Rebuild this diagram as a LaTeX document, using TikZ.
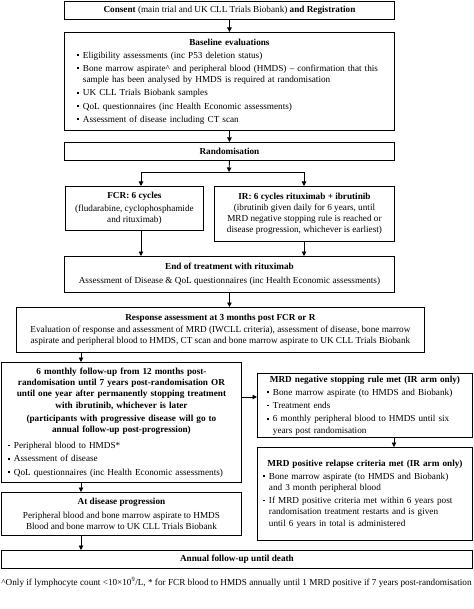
\documentclass[tikz,border=0pt]{standalone}
\usepackage{fontspec}
\setmainfont{Liberation Serif}
\usetikzlibrary{arrows.meta}
\newcommand{\fs}{\fontsize{9.2}{11.2}\selectfont}
\newcommand{\bx}{\raisebox{2.3pt}{\rule{1.7pt}{1.7pt}}}
\def\bind{7pt}
\def\igap{2pt}
\newcommand{\bitem}[1]{\par\vskip\igap{\leftskip=\bind\relax\hangindent=5.5pt\hangafter=1\noindent\makebox[5.5pt][l]{\bx}#1\par}}
\begin{document}
\begin{tikzpicture}[x=1pt,y=-1pt,
  bx/.style={draw, line width=0.9pt, anchor=north west, inner ysep=1pt, font=\fs},
  cbox/.style={bx, align=center, inner xsep=2pt},
  arr/.style={-{Triangle[length=4.5pt,width=4.5pt]}, line width=0.9pt},
  ln/.style={line width=0.9pt}]
\useasboundingbox (0,0) rectangle (473,609);

\node[cbox, minimum width=330pt, minimum height=18pt] (consent) at (64,1)
  {\textbf{Consent} (main trial and UK CLL Trials Biobank) \textbf{and Registration}};

\node[bx, text width=318pt, inner xsep=6pt, minimum height=98pt, align=left] (base) at (64,32)
  {{\centering\textbf{Baseline evaluations}\par}
   \def\bind{7pt}%
   \bitem{Eligibility assessments (inc P53 deletion status)}
   \bitem{Bone marrow aspirate\textasciicircum{} and peripheral blood (HMDS) -- confirmation that this\newline sample has been analysed by HMDS is required at randomisation}
   \bitem{UK CLL Trials Biobank samples}
   \bitem{QoL questionnaires (inc Health Economic assessments)}
   \bitem{Assessment of disease including CT scan}};

\node[cbox, minimum width=330pt, minimum height=18pt] (random) at (64,142)
  {\textbf{Randomisation}};

\node[cbox, minimum width=138pt, minimum height=44pt] (fcr) at (65,186)
  {\textbf{FCR: 6 cycles}\\[2pt] (fludarabine, cyclophosphamide\\ and rituximab)};

\node[cbox, minimum width=180pt, minimum height=55pt] (ir) at (214,186)
  {\textbf{IR: 6 cycles rituximab + ibrutinib}\\ (ibrutinib given daily for 6 years, until\\ MRD negative stopping rule is reached or\\ disease progression, whichever is earliest)};

\node[cbox, minimum width=330pt, minimum height=36pt] (endtr) at (64,256)
  {\textbf{End of treatment with rituximab}\\[3pt] Assessment of Disease \& QoL questionnaires (inc Health Economic assessments)};

\node[cbox, minimum width=408pt, minimum height=45pt] (resp) at (16,307)
  {\textbf{Response assessment at 3 months post FCR or R}\\[1pt] Evaluation of response and assessment of MRD (IWCLL criteria), assessment of disease, bone marrow\\ aspirate and peripheral blood to HMDS, CT scan and bone marrow aspirate to UK CLL Trials Biobank};

\node[bx, text width=232pt, inner xsep=4pt, minimum height=120pt, align=left] (fu) at (1,362)
  {{\centering\textbf{6 monthly follow-up from 12 months post-\\ randomisation until 7 years post-randomisation OR\\ until one year after permanently stopping treatment\\ with ibrutinib, whichever is later}\par}
   \vskip2pt
   {\centering\textbf{(participants with progressive disease will go to\\ annual follow-up post-progression)}\par}
   \vskip3pt
   \def\bind{3pt}%
   \bitem{Peripheral blood to HMDS*}
   \bitem{Assessment of disease}
   \bitem{QoL questionnaires (inc Health Economic assessments)}};

\node[bx, text width=211pt, inner xsep=2pt, minimum height=64pt, align=left] (mrdneg) at (257,373)
  {{\centering\textbf{MRD negative stopping rule met (IR arm only)}\par}
   \def\bind{8pt}%
   \bitem{Bone marrow aspirate (to HMDS and Biobank)}
   \bitem{Treatment ends}
   \bitem{6 monthly peripheral blood to HMDS until six\newline years post randomisation}};

\node[bx, text width=211pt, inner xsep=2pt, minimum height=93pt, align=left] (mrdpos) at (257,447)
  {{\centering\textbf{MRD positive relapse criteria met (IR arm only)}\par}
   \def\bind{4pt}%
   \bitem{Bone marrow aspirate (to HMDS and Biobank)\newline and 3 month peripheral blood}
   \bitem{If MRD positive criteria met within 6 years post\newline randomisation treatment restarts and is given\newline until 6 years in total is administered}};

\node[cbox, minimum width=240pt, minimum height=43pt] (prog) at (1,492)
  {\textbf{At disease progression}\\[3pt] Peripheral blood and bone marrow aspirate to HMDS\\ Blood and bone marrow to UK CLL Trials Biobank};

\node[cbox, minimum width=471pt, minimum height=18pt] (annual) at (1,550)
  {\textbf{Annual follow-up until death}};

\node[font=\fs, inner sep=0pt] (foot) at (236.5,582)
  {\textasciicircum Only if lymphocyte count <10×10\textsuperscript{9}/L, * for FCR blood to HMDS annually until 1 MRD positive if 7 years post-randomisation};

% connectors
\coordinate (jn) at (229,172);
\coordinate (jl) at (141,172);
\coordinate (jr) at (304,172);
\coordinate (ax) at (81,0);
\coordinate (ay) at (0,397);
\coordinate (bxx) at (394,0);
\draw[arr] (consent) -- (base);
\draw[arr] (base) -- (random);
\draw[arr] (random.south) -- (jn);
\draw[ln] (jl) -- (jr);
\draw[arr] (jl) -- (jl |- fcr.north);
\draw[arr] (jr) -- (jr |- ir.north);
\draw[arr] (jl |- fcr.south) -- (jl |- endtr.north);
\draw[arr] (jr |- ir.south) -- (jr |- endtr.north);
\draw[arr] (endtr.south) -- (endtr.south |- resp.north);
\draw[arr] (ax |- resp.south) -- (ax |- fu.north);
\draw[arr] (fu.east |- ay) -- (mrdneg.west |- ay);
\draw[arr] (bxx |- mrdneg.south) -- (bxx |- mrdpos.north);
\draw[arr] (ax |- fu.south) -- (ax |- prog.north);
\draw[arr] (ax |- prog.south) -- (ax |- annual.north);
\end{tikzpicture}
\end{document}
